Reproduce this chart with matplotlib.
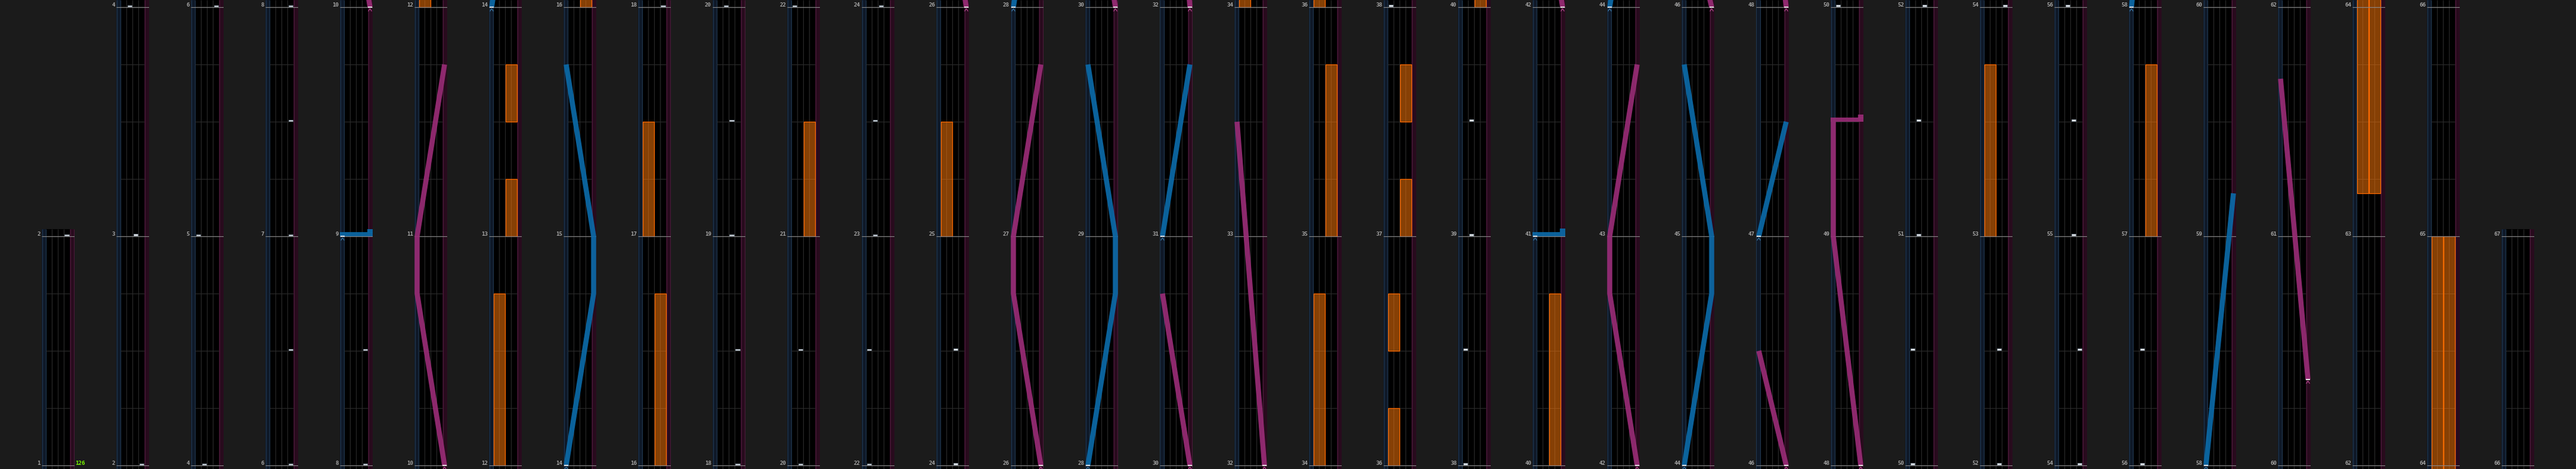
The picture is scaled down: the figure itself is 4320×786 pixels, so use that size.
import matplotlib
matplotlib.use("Agg")
import matplotlib.pyplot as plt
from matplotlib.patches import Rectangle

# ---------------- data ----------------
bpm_label = "126"
first_measure, last_measure = 1, 67

# tap notes: measure position and lane (1..4)
note_measures = [2, 3, 4, 5, 6, 6.5, 7, 7.5, 8, 8.5,
                 18, 18.5, 19, 19.5, 20, 20.5,
                 22, 22.5, 23, 23.5, 24, 24.5,
                 38, 38.5, 39, 39.5,
                 50, 50.5, 51, 51.5, 52, 52.5,
                 54, 54.5, 55, 55.5, 56, 56.5]
note_lanes = [4, 3, 2, 1, 4, 4, 4, 4, 4, 4,
              4, 4, 3, 3, 2, 2,
              1, 1, 2, 2, 3, 3,
              1, 1, 2, 2,
              1, 1, 2, 2, 3, 3,
              4, 4, 3, 3, 2, 2]

# holds: start, end, side (0 = left pair of lanes, 1 = right pair)
hold_start = [12, 13, 13.5, 16, 17, 21, 25, 34, 35, 36, 36.5, 37, 37.5, 40, 53, 57, 63.1875, 63.1875]
hold_end = [12.75, 13.25, 13.75, 16.75, 17.5, 21.5, 25.5, 34.75, 35.75, 36.25, 36.75, 37.25, 37.75, 40.75, 53.75, 57.75, 65, 65]
hold_side = [0, 1, 1, 1, 0, 1, 0, 0, 1, 0, 0, 1, 1, 1, 0, 1, 0, 1]

# foot paths: (side, measure) with side 0 = left, 1 = right
left_foot_paths = [
    [(0, 14), (1, 14.75), (1, 15), (0, 15.75)],
    [(0, 28), (1, 28.75), (1, 29), (0, 29.75)],
    [(0, 31), (1, 31.75)],
    [(0, 44), (1, 44.75), (1, 45), (0, 45.75)],
    [(0, 47), (1, 47.5)],
    [(0, 58), (1, 59.1875)],
]
right_foot_paths = [
    [(1, 10), (0, 10.75), (0, 11), (1, 11.75)],
    [(1, 26), (0, 26.75), (0, 27), (1, 27.75)],
    [(1, 30), (0, 30.75)],
    [(1, 32), (0, 33.5)],
    [(1, 42), (0, 42.75), (0, 43), (1, 43.75)],
    [(1, 46), (0, 46.5)],
    [(1, 48), (0, 49), (0, 49.5)],
    [(1, 60.375), (0, 61.6875)],
]
left_switches = [9, 41]
right_switches = [49.5]
left_starts = [9, 14, 28, 31, 41, 44, 47, 58]
right_starts = [10, 26, 30, 32, 42, 46, 48, 60.375]

# ---------------- style ----------------
W, H = 4320, 786
MPX = 384.0            # pixels per measure
BG = "#1b1b1b"
BLUE = "#0b6aa8"
MAG = "#992c76"
LANE_L, LANE_R = 7.3, 47.3
SIDE_X = {0: 4.5, 1: 50.5}

fig = plt.figure(figsize=(W / 100, H / 100), dpi=100, facecolor=BG)


def px(v):
    return v / MPX


n_cols = 34
for ci in range(n_cols):
    c = ci + 1
    x0 = 70 + 125 * ci
    if c == 1:
        b, span = first_measure, 1
    elif c == n_cols:
        b, span = last_measure - 1, 1
    else:
        b, span = 2 * c - 2, 2
    hpx = span * MPX + 18
    ax = fig.add_axes([x0 / W, 0, 55 / W, hpx / H])
    lo, hi = b - px(6), b + span + px(12)
    ax.set_xlim(0, 55)
    ax.set_ylim(lo, hi)
    ax.axis("off")

    # backgrounds
    ax.add_patch(Rectangle((0, lo), 55, hi - lo, fc="black", ec="none", zorder=0))
    ax.add_patch(Rectangle((0, lo), LANE_L, hi - lo, fc="#0f1928", ec="none", zorder=0.5))
    ax.add_patch(Rectangle((LANE_R, lo), 55 - LANE_R, hi - lo, fc="#280b1d", ec="none", zorder=0.5))
    ax.vlines([0.5, 6.8], lo, hi, color="#213850", lw=0.8, zorder=0.6)
    ax.vlines([47.8, 54.5], lo, hi, color="#4c1a3b", lw=0.8, zorder=0.6)
    ax.vlines([17.3, 27.3, 37.3], lo, hi, color="#2b2b2b", lw=0.75, zorder=1)

    # beat lines
    q = int((lo) * 4) - 1
    while q / 4 <= hi:
        v = q / 4
        if lo <= v <= hi and q % 4 != 0:
            ax.hlines(v, LANE_L, LANE_R, color="#2b2b2b", lw=0.75, zorder=1)
        q += 1

    # measure lines + labels
    for m in range(b, b + span + 1):
        ax.hlines(m, 0, 55, color="#8a8a8a", lw=0.8, zorder=3)
        ax.text(-2, m + px(1), str(m), ha="right", va="baseline", color="#a6a6a6",
                fontsize=6.6, family="DejaVu Sans Mono", fontweight="bold", clip_on=False)

    if c == 1:
        ax.text(56.5, b + px(1), bpm_label, ha="left", va="baseline", color="#7cff00",
                fontsize=6.6, family="DejaVu Sans Mono", fontweight="bold", clip_on=False)

    # holds
    for s, e, sd in zip(hold_start, hold_end, hold_side):
        xl = 8.0 if sd == 0 else 28.0
        ax.add_patch(Rectangle((xl, s), 18.8, e - s, fc="#ff7a0a", alpha=0.53, ec="none", zorder=2))
        ax.add_patch(Rectangle((xl, s), 18.8, e - s, fill=False, ec="#ff6a00", lw=0.9, zorder=2.1))

    # notes
    for m, ln in zip(note_measures, note_lanes):
        xl = LANE_L + 10 * (ln - 1) + 1.2
        ax.add_patch(Rectangle((xl, m + px(0.7)), 7.8, px(2.8), fc="#eef2f6", ec="#7d8c9c",
                               lw=0.5, zorder=4))

    # foot paths
    for paths, col in ((left_foot_paths, BLUE), (right_foot_paths, MAG)):
        for p in paths:
            xs = [SIDE_X[s] for s, _ in p]
            ys = [m for _, m in p]
            ax.plot(xs, ys, color=col, lw=8.5 * 0.72, alpha=0.92, solid_capstyle="butt",
                    solid_joinstyle="miter", zorder=5)

    for sw_list, col in ((left_switches, BLUE), (right_switches, MAG)):
        for m in sw_list:
            ax.add_patch(Rectangle((0, m), 55, px(6.5), fc=col, ec="none", alpha=0.92, zorder=5))
            ax.add_patch(Rectangle((46, m + px(6.5)), 9, px(6), fc=col, ec="none", alpha=0.92, zorder=5))

    # start markers
    for st_list, cx, col, xr in ((left_starts, 4.5, "#3c7fb0", (0.8, 8.2)),
                                 (right_starts, 50.5, "#c04a98", (46.8, 54.2))):
        for m in st_list:
            ax.hlines(m, xr[0], xr[1], color="white", lw=1.3, zorder=6)
            ax.plot([cx - 2.6, cx, cx + 2.6], [m - px(6.5), m - px(2.5), m - px(6.5)],
                    color=col, lw=0.8, zorder=6)

fig.savefig("out.png", dpi=100, facecolor=BG)
